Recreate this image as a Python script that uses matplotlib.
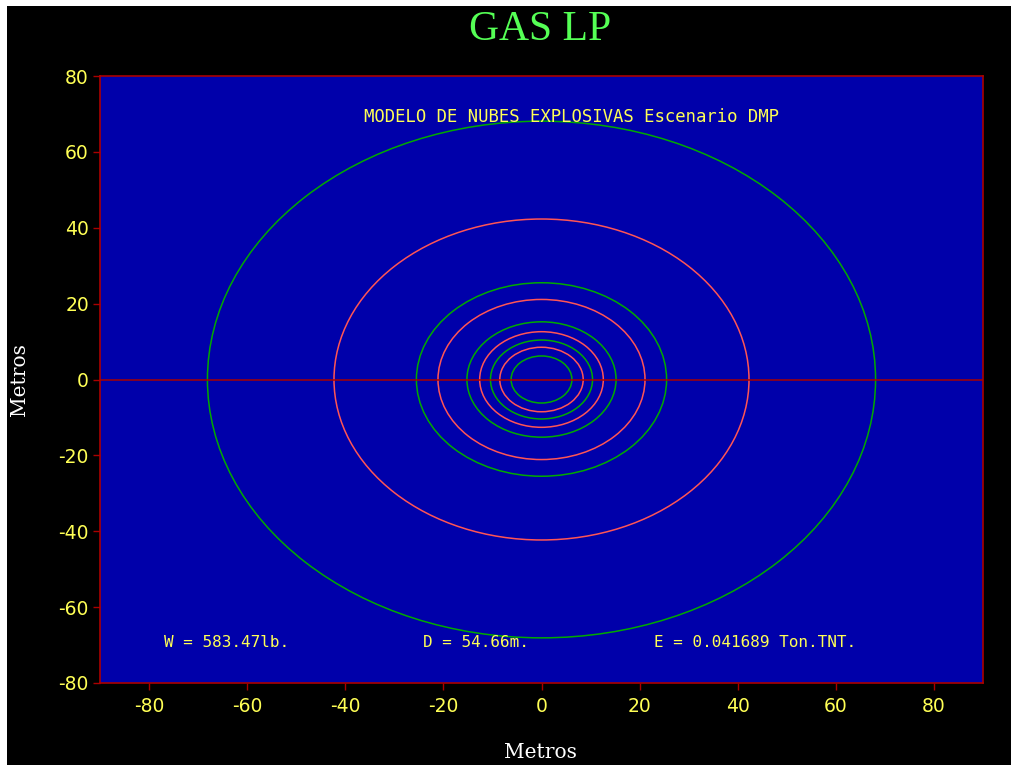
import matplotlib
matplotlib.use("Agg")
import matplotlib.pyplot as plt
from matplotlib.patches import Circle, Rectangle

plt.rcParams["axes.unicode_minus"] = False

# Data
green_radii = [68.1, 25.5, 15.2, 10.4, 6.2]
red_radii = [42.3, 21.1, 12.6, 8.5]
x_ticks = [-80, -60, -40, -20, 0, 20, 40, 60, 80]
y_ticks = [-80, -60, -40, -20, 0, 20, 40, 60, 80]
title = "GAS LP"
subtitle = "MODELO DE NUBES EXPLOSIVAS Escenario DMP"
info_texts = ["W = 583.47lb.", "D = 54.66m.", "E = 0.041689 Ton.TNT."]
info_x = [-76.9, -24.1, 22.9]
info_y = -69.4

BLUE = "#0000AA"
GREEN = "#00AA00"
PINK = "#FF5555"
DRED = "#AA0000"
YELLOW = "#FFFF55"
LGREEN = "#55FF55"

W, H = 1011, 765
fig = plt.figure(figsize=(W / 100, H / 100), dpi=100, facecolor="white")
fig.patches.append(Rectangle((7 / W, 0), 1 - 7 / W, 1 - 6 / H, transform=fig.transFigure,
                             facecolor="black", edgecolor="none", zorder=-10))

ax = fig.add_axes([100 / W, (H - 683) / H, 883 / W, 607 / H])
ax.set_facecolor(BLUE)
ax.set_xlim(-90, 90)
ax.set_ylim(-80, 80)

for r in green_radii:
    ax.add_patch(Circle((0, 0), r, fill=False, edgecolor=GREEN, linewidth=1.1))
for r in red_radii:
    ax.add_patch(Circle((0, 0), r, fill=False, edgecolor=PINK, linewidth=1.1))

ax.axhline(0, color=DRED, linewidth=1.1)

for s in ax.spines.values():
    s.set_color(DRED)
    s.set_linewidth(1.2)

ax.set_xticks(x_ticks)
ax.set_yticks(y_ticks)
ax.tick_params(axis="both", direction="out", length=5, width=1, color=DRED,
               labelcolor=YELLOW, labelsize=13.5)
ax.tick_params(axis="x", pad=5)
ax.tick_params(axis="y", pad=3)

ax.text(6.1, 69.1, subtitle, color=YELLOW, fontsize=12.4, family="DejaVu Sans Mono",
        ha="center", va="center")
for t, xx in zip(info_texts, info_x):
    ax.text(xx, info_y, t, color=YELLOW, fontsize=11.5, family="DejaVu Sans Mono",
            ha="left", va="center")

fig.text(540 / W, 1 - 30 / H, title, color=LGREEN, fontsize=30, family="Liberation Serif",
         ha="center", va="center")
fig.text(540 / W, 1 - 752 / H, "Metros", color="white", fontsize=14.5, family="DejaVu Serif",
         ha="center", va="center")
fig.text(20 / W, 1 - 380 / H, "Metros", color="white", fontsize=14.5, family="DejaVu Serif",
         ha="center", va="center", rotation=90)

fig.savefig("out.png", dpi=100, facecolor=fig.get_facecolor())
